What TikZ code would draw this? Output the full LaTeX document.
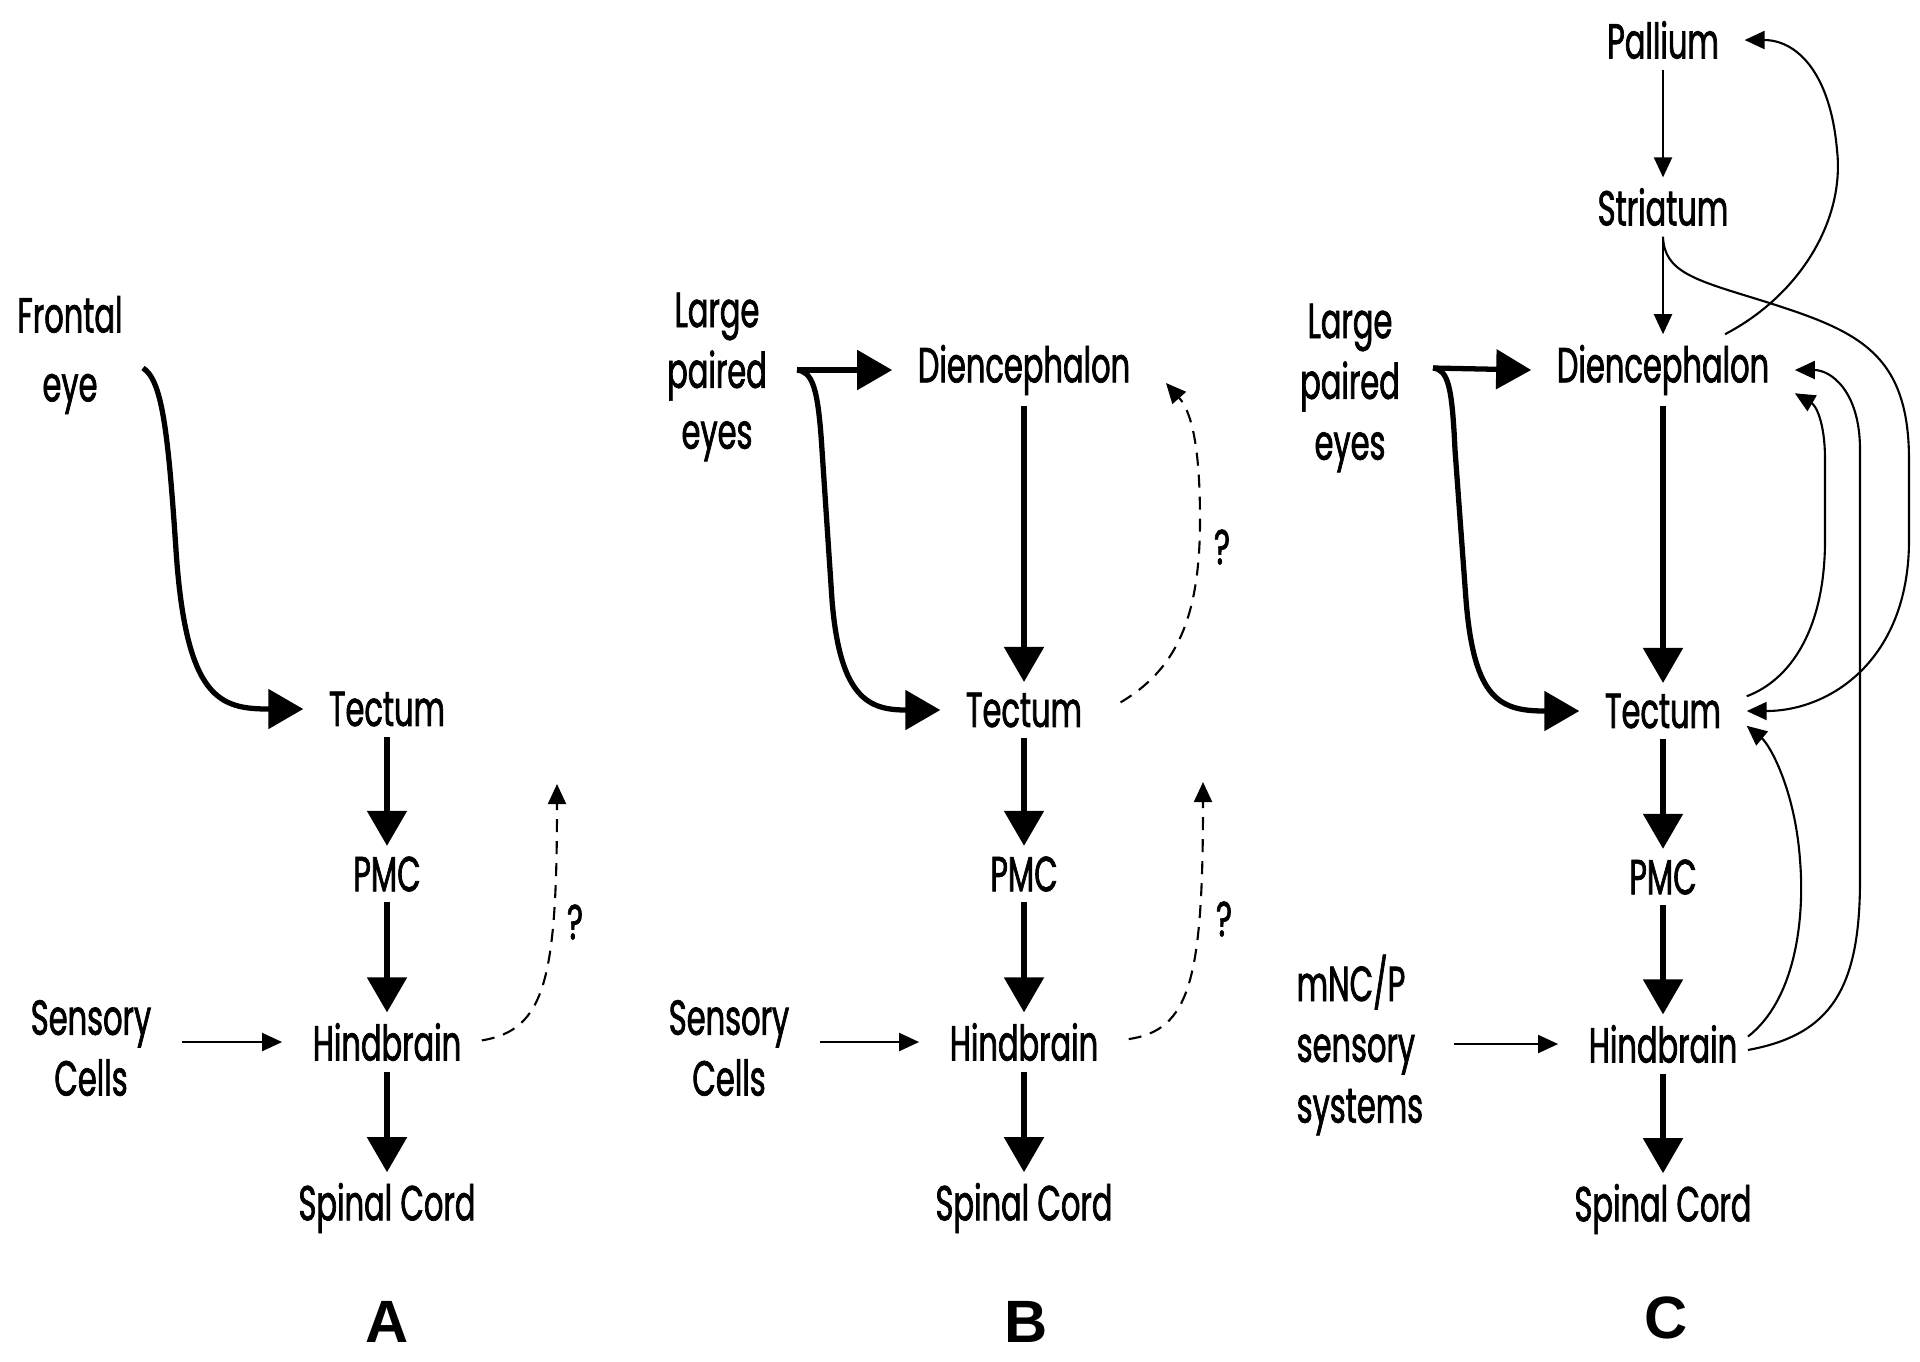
\documentclass[tikz,border=0pt]{standalone}
\usepackage{fontspec}
\setmainfont{Poppins}[FakeStretch=0.62,FakeBold=1.4]
\newfontfamily\tagfont{Liberation Sans}
\usepackage{tikz}
\usetikzlibrary{arrows.meta}
\tikzset{
	region/.style={font=\fontsize{14}{17.3}\selectfont, inner xsep=2.5mm, inner ysep=1mm, align=center},
	hind/.style={region, inner xsep=1mm},
	panel tag/.style={font=\tagfont\bfseries\fontsize{17}{19}\selectfont, inner sep=0pt},
	main arrow/.style={line width=1.5pt, -{Triangle[length=3.5mm,width=3.9mm]}},
	thin arrow/.style={line width=0.6pt, -{Triangle[length=2mm,width=1.8mm]}},
	feed/.style={thin arrow, shorten <=2mm, shorten >=2mm},
	query arrow/.style={thin arrow, dash pattern=on 1.3mm off 0.9mm}
}

\begin{document}
\begin{tikzpicture}
	\useasboundingbox (0,0) rectangle (19.2,-13.61);

	% A
	\node [region,font=\fontsize{14}{19.6}\selectfont] (frontA) at (0.70,-3.55) {Frontal\\eye};
	\node [region] (tecA) at (3.87,-7.09) {Tectum};
	\node [region] (pmcA) at (3.87,-8.74) {PMC};
	\node [hind] (hindA) at (3.87,-10.42) {Hindbrain};
	\node [region] (spinA) at (3.87,-12.08) {Spinal Cord};
	\node [region] (sensA) at (0.91,-10.48) {Sensory\\Cells};
	\node [region] (qA) at (5.75,-9.22) {?};
	\node [panel tag] (labA) at (3.87,-13.22) {A};
	\coordinate (jA) at (1.43,-3.68);
	\coordinate (upA) at (5.57,-7.84);

	\draw [main arrow] (jA) .. controls (1.62,-3.80) and (1.68,-4.3) .. (1.76,-5.5)
		.. controls (1.86,-7.0) and (2.2,-7.09) .. (tecA.west);
	\draw [main arrow] (tecA) -- (pmcA);
	\draw [main arrow] (pmcA) -- (hindA);
	\draw [main arrow] (hindA) -- (spinA);
	\draw [feed, shorten <=0.5mm] (sensA.east |- hindA) -- (hindA.west);
	\draw [query arrow, shorten <=1mm] (hindA.east) .. controls (5.45,-10.3) and (5.57,-9.8) .. (upA);

	% B
	\node [region] (eyesB) at (7.17,-3.77) {Large\\paired\\eyes};
	\node [region] (dienB) at (10.24,-3.70) {Diencephalon};
	\node [region] (tecB) at (10.24,-7.10) {Tectum};
	\node [region] (pmcB) at (10.24,-8.74) {PMC};
	\node [hind] (hindB) at (10.24,-10.42) {Hindbrain};
	\node [region] (spinB) at (10.24,-12.08) {Spinal Cord};
	\node [region] (sensB) at (7.29,-10.48) {Sensory\\Cells};
	\node [region] (qB1) at (12.22,-5.47) {?};
	\node [region] (qB2) at (12.24,-9.19) {?};
	\node [panel tag] (labB) at (10.26,-13.22) {B};
	\coordinate (jB) at (7.97,-3.70);
	\coordinate (upB1) at (11.66,-3.83);
	\coordinate (upB2) at (12.03,-7.82);

	\draw [main arrow] (jB) -- (dienB.west);
	\draw [main arrow] (jB) .. controls (8.12,-3.72) and (8.18,-3.85) .. (8.22,-4.5) -- (8.32,-6.0)
		.. controls (8.40,-7.0) and (8.7,-7.10) .. (tecB.west);
	\draw [main arrow] (dienB) -- (tecB);
	\draw [main arrow] (tecB) -- (pmcB);
	\draw [main arrow] (pmcB) -- (hindB);
	\draw [main arrow] (hindB) -- (spinB);
	\draw [feed, shorten <=0.5mm] (sensB.east |- hindB) -- (hindB.west);
	\draw [query arrow, shorten <=1.5mm] (tecB.east) .. controls (11.75,-6.7) and (12.0,-6.2) .. (12.0,-5.2)
		.. controls (12.0,-4.4) and (11.9,-4.1) .. (upB1);
	\draw [query arrow, shorten <=2mm] (hindB.east) .. controls (11.9,-10.3) and (12.03,-9.8) .. (upB2);

	% C
	\node [region] (palC) at (16.63,-0.40) {Pallium};
	\node [region] (striC) at (16.63,-2.07) {Striatum};
	\node [region] (dienC) at (16.63,-3.70) {Diencephalon};
	\node [region] (eyesC) at (13.50,-3.88) {Large\\paired\\eyes};
	\node [region] (tecC) at (16.63,-7.11) {Tectum};
	\node [region] (pmcC) at (16.63,-8.77) {PMC};
	\node [hind] (hindC) at (16.63,-10.44) {Hindbrain};
	\node [region] (spinC) at (16.63,-12.09) {Spinal Cord};
	\node [region, align=left, anchor=west, inner xsep=1mm] (mncC) at (12.86,-10.45) {mNC/P\\sensory\\systems};
	\node [panel tag] (labC) at (16.66,-13.18) {C};
	\coordinate (jC) at (14.33,-3.68);

	\draw [thin arrow] (palC) -- (striC);
	\draw [thin arrow] (striC) -- (dienC);
	\draw [main arrow] (jC) -- (dienC.west);
	\draw [main arrow] (jC) .. controls (14.48,-3.70) and (14.52,-3.85) .. (14.55,-4.5) -- (14.66,-6.0)
		.. controls (14.74,-7.0) and (15.0,-7.11) .. (tecC.west);
	\draw [main arrow] (dienC) -- (tecC);
	\draw [main arrow] (tecC) -- (pmcC);
	\draw [main arrow] (pmcC) -- (hindC);
	\draw [main arrow] (hindC) -- (spinC);
	\draw [feed] (mncC.east |- hindC) -- (hindC.west);
	% feedback loops
	\draw [thin arrow] (dienC.30) .. controls (18.0,-2.95) and (18.45,-2.2) .. (18.37,-1.5)
		.. controls (18.3,-0.7) and (17.95,-0.40) .. (palC.east);
	\draw [thin arrow] (striC.south) .. controls (16.64,-2.72) and (16.95,-2.80) .. (17.6,-3.0)
		.. controls (18.55,-3.3) and (19.09,-3.5) .. (19.09,-4.6) -- (19.09,-5.4)
		.. controls (19.09,-6.6) and (18.3,-7.11) .. (tecC.east);
	\draw [thin arrow] (tecC.10) .. controls (17.9,-6.8) and (18.25,-6.3) .. (18.25,-5.4) -- (18.25,-4.6)
		.. controls (18.25,-4.2) and (18.15,-4.05) .. (dienC.-10);
	\draw [thin arrow] (hindC.-4) .. controls (18.3,-10.35) and (18.6,-9.9) .. (18.6,-8.8) -- (18.6,-4.5)
		.. controls (18.6,-3.9) and (18.3,-3.70) .. (dienC.east);
	\draw [thin arrow] (hindC.5) .. controls (17.95,-10.0) and (18.05,-9.2) .. (18.0,-8.6)
		.. controls (17.95,-7.9) and (17.7,-7.45) .. (tecC.-10);
\end{tikzpicture}
\end{document}
